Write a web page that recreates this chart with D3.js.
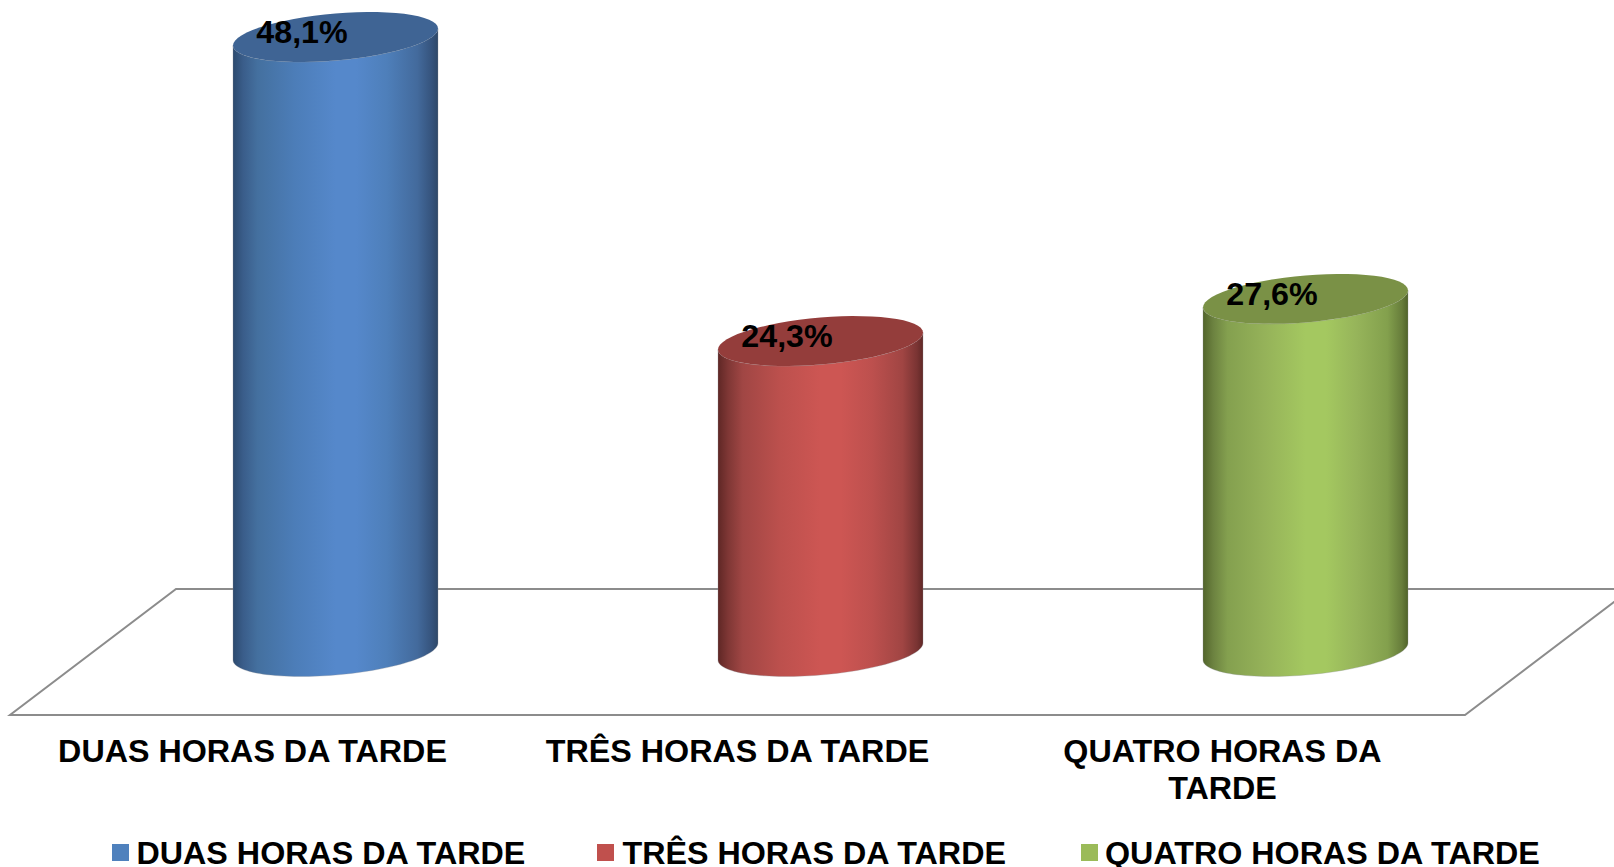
<!DOCTYPE html>
<html><head><meta charset="utf-8">
<script src="https://cdn.jsdelivr.net/npm/d3@7"></script>
<style>html,body{margin:0;padding:0;background:#fff;overflow:hidden}svg{display:block}
text{font-family:"Liberation Sans",Arial,sans-serif;font-weight:bold;fill:#000}</style>
</head><body><svg id="c" width="1614" height="867"></svg>
<script>
const categories = ["DUAS HORAS DA TARDE","TRÊS HORAS DA TARDE","QUATRO HORAS DA TARDE"];
const values = [48.1,24.3,27.6];
const valueLabels = ["48,1%","24,3%","27,6%"];
const axisLines = [["DUAS HORAS DA TARDE"],["TRÊS HORAS DA TARDE"],["QUATRO HORAS DA","TARDE"]];
const legendColors = ["#4f81bd","#c0504d","#9bbb59"];
const topColors = ["#3f6494","#943d3b","#7a9146"];
const sideStops = [
  ["#2c4a6e","#3a5d8a","#44709f","#4c7db8","#5588cb","#5588cb","#4e7fba","#436a9c","#35537c","#2e4868"],
  ["#5f2725","#7f3735","#a04644","#bc504d","#cd5653","#cd5653","#bd504e","#a04543","#7a3433","#602826"],
  ["#52652b","#6c8240","#84a04f","#95b259","#a4c860","#a4c860","#96b45a","#83a04d","#677d3b","#50632a"]
];
const stopOffsets = [0,0.05,0.12,0.3,0.5,0.6,0.75,0.9,0.97,1];

const W=1614,H=867,floorL=10,floorR=1465,floorFront=715,floorBack=589,depth=166,fs=32.25;
const svg=d3.select("#c");
const x=d3.scaleBand().domain(categories).range([floorL,floorR]);
const baseY=(floorFront+floorBack)/2;
const y=d3.scaleLinear().domain([0,48.1]).range([baseY-0.5,37]);
const barW=205, rx=barW/2, tilt=8.5, ry=23.5;
const cx=c=>x(c)+x.bandwidth()/2+depth/2;

// floor
svg.append("path")
  .attr("d",d3.line()([[floorL,floorFront],[floorR,floorFront],[floorR+depth,floorBack],[floorL+depth,floorBack]])+"Z")
  .attr("fill","#fff").attr("stroke","#8c8c8c").attr("stroke-width",2);

const defs=svg.append("defs");
categories.forEach((c,i)=>{
  const g=defs.append("linearGradient").attr("id","g"+i);
  stopOffsets.forEach((o,k)=>g.append("stop").attr("offset",o).attr("stop-color",sideStops[i][k]));
});
// ellipse outline from the angle parameter
const ell=(cxv,cyv,a0,a1)=>d3.range(0,61).map(k=>{
  const t=a0+(a1-a0)*k/60;
  return [cxv+rx*Math.cos(t),cyv-tilt*Math.cos(t)+ry*Math.sin(t)];
});
const ln=d3.line();
categories.forEach((c,i)=>{
  const X=cx(c),T=y(values[i]),B=y(0);
  const pts=[...ell(X,B,0,Math.PI),...ell(X,T,Math.PI,0)];
  svg.append("path").attr("d",ln(pts)+"Z").attr("fill",`url(#g${i})`)
    .attr("stroke","#8a8f96").attr("stroke-opacity",0.3).attr("stroke-width",1);
  svg.append("path").attr("d",ln(ell(X,T,0,2*Math.PI))+"Z").attr("fill",topColors[i]);
});
// data labels
categories.forEach((c,i)=>{
  svg.append("text").attr("x",cx(c)-33.5).attr("y",y(values[i])+6)
    .attr("text-anchor","middle").attr("font-size",fs).text(valueLabels[i]);
});
// axis
categories.forEach((c,i)=>{
  const t=svg.append("text").attr("text-anchor","middle").attr("font-size",fs);
  axisLines[i].forEach((l,k)=>t.append("tspan").attr("x",x(c)+x.bandwidth()/2).attr("y",762+k*37).text(l));
});
// legend
const legSw=[112,597,1081], legTx=[136.5,622.5,1105];
categories.forEach((c,i)=>{
  svg.append("rect").attr("x",legSw[i]).attr("y",844).attr("width",17).attr("height",17).attr("fill",legendColors[i]);
  svg.append("text").attr("x",legTx[i]).attr("y",863.5).attr("font-size",fs).text(c);
});
</script></body></html>
